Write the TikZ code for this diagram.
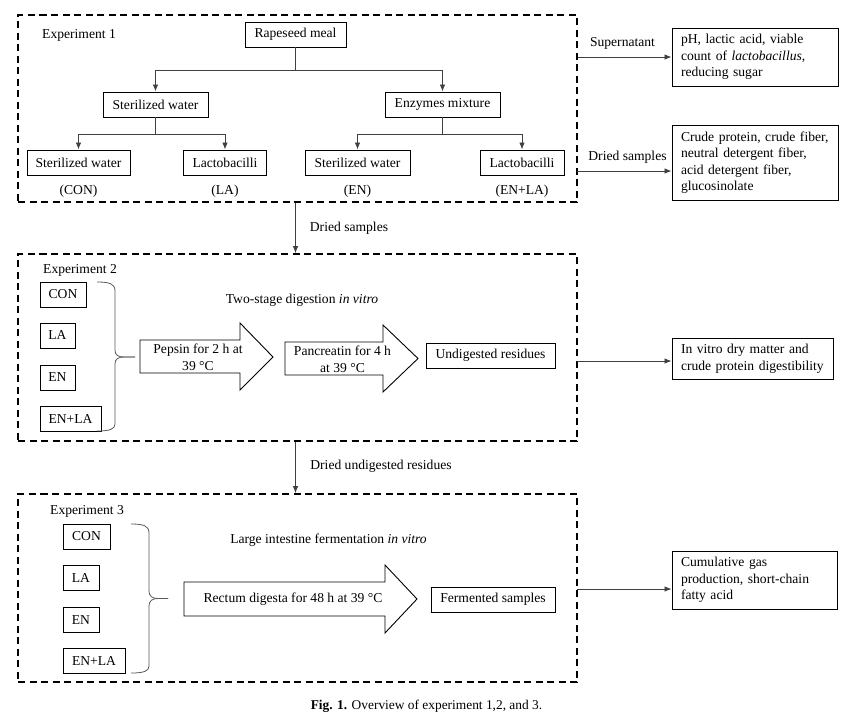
\documentclass[tikz,border=0pt]{standalone}
\usepackage{fontspec}
\setmainfont{Liberation Serif}
\usetikzlibrary{arrows.meta}
\begin{document}
\begin{tikzpicture}[x=1pt,y=-1pt,
  every node/.style={font=\fontsize{13.6}{16.5}\selectfont, inner sep=0pt},
  bx/.style={draw=black, line width=0.95pt, minimum height=25pt, fill=white},
  rbox/.style={draw=black, line width=0.95pt, align=left, inner xsep=9pt, inner ysep=0pt},
  dbox/.style={draw=black, line width=1.8pt, dash pattern=on 7pt off 4.5pt, minimum width=559pt},
  conn/.style={draw=black!75, line width=0.8pt},
  arr/.style={conn, -{Latex[length=7pt,width=5.5pt]}},
  brc/.style={draw=black!65, line width=0.8pt},
  fat/.style={draw=black, line width=0.9pt, fill=white, line join=miter}]
\useasboundingbox (0,0) rectangle (853,724);

% ---------- Experiment 1 ----------
\node[dbox, minimum height=187pt] (exp1) at (297.5,108.5) {};
\node[anchor=west] (e1lbl) at (42,35) {Experiment 1};
\node[bx, minimum width=101pt] (rm) at (295.5,34.5) {Rapeseed meal};
\node[bx, minimum width=105pt] (sw) at (155.5,104.5) {Sterilized water};
\node[bx, minimum width=115pt] (em) at (442.5,104.5) {Enzymes mixture};
\node[bx, minimum width=103pt] (swc) at (78.5,162.5) {Sterilized water};
\node[bx, minimum width=83pt] (lac) at (225,162.5) {Lactobacilli};
\node[bx, minimum width=105pt] (swe) at (357.5,162.5) {Sterilized water};
\node[bx, minimum width=84pt] (lae) at (522,162.5) {Lactobacilli};
\node (tcon) at (78.5,191) {(CON)};
\node (tla) at (225,191) {(LA)};
\node (ten) at (357.5,191) {(EN)};
\node (tenla) at (522,191) {(EN+LA)};

\draw[arr] (rm.south) -- ++(0,23) -| (sw.north);
\draw[arr] (rm.south) -- ++(0,23) -| (em.north);
\draw[arr] (sw.south) -- ++(0,17) -| (swc.north);
\draw[arr] (sw.south) -- ++(0,17) -| (lac.north);
\draw[arr] (em.south) -- ++(0,17) -| (swe.north);
\draw[arr] (em.south) -- ++(0,17) -| (lae.north);

% right outputs of experiment 1
\node[rbox, text width=148pt, minimum height=58pt] (r1) at (755,57)
  {pH, lactic acid, viable\\count of \textit{lactobacillus},\\reducing sugar};
\node[rbox, text width=148pt, minimum height=75pt] (r2) at (755,162.5)
  {Crude protein, crude fiber,\\neutral detergent fiber,\\acid detergent fiber,\\glucosinolate};
\node (sup) at (622.5,43) {Supernatant};
\node (ds1) at (627.5,157) {Dried samples};
\coordinate (c2) at (577,171);
\draw[arr] (exp1.east |- r1.west) -- (r1.west);
\draw[arr] (c2) -- (c2 -| r2.west);

% ---------- Experiment 2 ----------
\node[dbox, minimum height=187pt] (exp2) at (297.5,347.5) {};
\draw[arr] (rm |- exp1.south) -- (rm |- exp2.north);
\node (ds2) at (349,228) {Dried samples};
\node[anchor=west] (e2lbl) at (43,270) {Experiment 2};
\node[bx, minimum width=46pt] (con2) at (63,294.5) {CON};
\node[bx, minimum width=35pt] (la2) at (57.5,335.5) {LA};
\node[bx, minimum width=35pt] (en2) at (57.5,377.5) {EN};
\node[bx, minimum width=61pt] (enla2) at (70.5,418.5) {EN+LA};
\draw[brc] (97,282) .. controls (110,282) and (115,284) .. (115,291) -- (115,350)
  .. controls (115,355) and (118,357) .. (124,357) -- (135,357);
\draw[brc] (135,357) -- (124,357) .. controls (118,357) and (115,359) .. (115,364)
  -- (115,424) .. controls (115,429) and (110,431) .. (97,431);
\node (tsd) at (302,300) {Two-stage digestion \textit{in vitro}};
\draw[fat] (140,340) -- (240,340) -- (240,323) -- (273,357) -- (240,390) -- (240,373) -- (140,373) -- cycle;
\node[align=center] (pep) at (198,357.5) {Pepsin for 2 h at\\39 °C};
\draw[fat] (285,342) -- (383,342) -- (383,325) -- (418,358.5) -- (383,392) -- (383,375) -- (285,375) -- cycle;
\node[align=center] (pan) at (342.5,359.5) {Pancreatin for 4 h\\at 39 °C};
\node[bx, minimum width=129pt] (ur) at (490.5,355.5) {Undigested residues};
\node[rbox, text width=143pt, minimum height=41pt] (r3) at (752.5,358.5)
  {In vitro dry matter and\\crude protein digestibility};
\coordinate (c3) at (577,361);
\draw[arr] (c3) -- (c3 -| r3.west);

% ---------- Experiment 3 ----------
\node[dbox, minimum height=188pt] (exp3) at (297.5,588) {};
\draw[arr] (rm |- exp2.south) -- (rm |- exp3.north);
\node (dur) at (381,466) {Dried undigested residues};
\node[anchor=west] (e3lbl) at (50,511) {Experiment 3};
\node[bx, minimum width=47pt] (con3) at (86.5,536.5) {CON};
\node[bx, minimum width=36pt] (la3) at (81,578) {LA};
\node[bx, minimum width=36pt] (en3) at (81,620) {EN};
\node[bx, minimum width=62pt] (enla3) at (94,660.5) {EN+LA};
\draw[brc] (131,524) .. controls (144,524) and (149,526) .. (149,533) -- (149,591)
  .. controls (149,596) and (152,598.5) .. (158,598.5) -- (168,598.5);
\draw[brc] (168,598.5) -- (158,598.5) .. controls (152,598.5) and (149,601) .. (149,606)
  -- (149,666) .. controls (149,671) and (144,673) .. (131,673);
\node (lif) at (328.5,540) {Large intestine fermentation \textit{in vitro}};
\draw[fat] (184,582) -- (385,582) -- (385,565) -- (417,599) -- (385,633) -- (385,616) -- (184,616) -- cycle;
\node (rec) at (293,599) {Rectum digesta for 48 h at 39 °C};
\node[bx, minimum width=124pt] (fs) at (493,599.5) {Fermented samples};
\node[rbox, text width=147pt, minimum height=58pt] (r4) at (754.5,580)
  {Cumulative gas\\production, short-chain\\fatty acid};
\coordinate (c4) at (577,589);
\draw[arr] (c4) -- (c4 -| r4.west);

% ---------- caption ----------
\node (cap) at (426.5,706) {\fontsize{13.4}{16}\selectfont\textbf{Fig. 1.} Overview of experiment 1,2, and 3.};
\end{tikzpicture}
\end{document}
